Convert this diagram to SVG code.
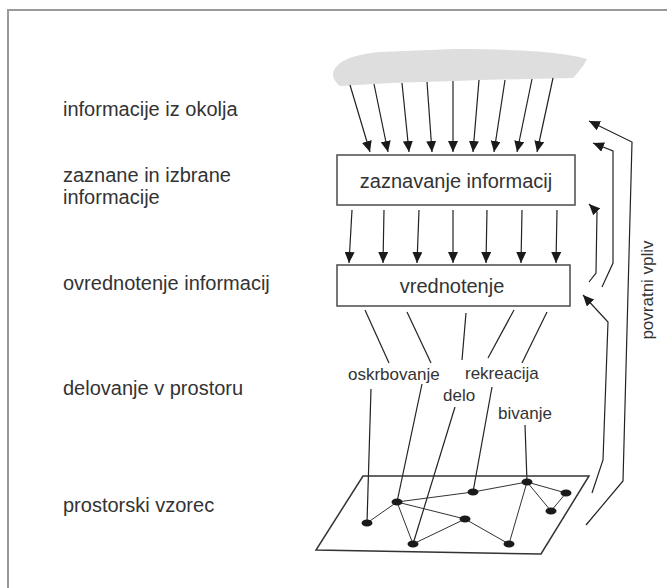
<svg xmlns="http://www.w3.org/2000/svg" width="667" height="588" viewBox="0 0 667 588">
<defs>
<marker id="ah" markerUnits="userSpaceOnUse" markerWidth="12" markerHeight="10" refX="11" refY="5" orient="auto"><path d="M0,0 L11,5 L0,10 z" fill="#1a1a1a"/></marker>
</defs>
<style>
.t{font-family:"Liberation Sans",Arial,sans-serif;font-size:20px;fill:#333}
.s{font-family:"Liberation Sans",Arial,sans-serif;font-size:17px;fill:#333}
.ln{stroke:#222;stroke-width:1.2;fill:none}
.ar{stroke:#222;stroke-width:1.2;fill:none;marker-end:url(#ah)}
.bx{fill:#fff;stroke:#555;stroke-width:1.6}
.nd{fill:#1a1a1a}
.ed{stroke:#333;stroke-width:1;fill:none}
</style>
<rect width="667" height="588" fill="#fff"/>
<path d="M8,588 L8,10 L667,10" fill="none" stroke="#999" stroke-width="2"/>
<g id="labels">
<text class="t" x="63" y="116">informacije iz okolja</text>
<text class="t" x="63" y="182">zaznane in izbrane</text>
<text class="t" x="63" y="204">informacije</text>
<text class="t" x="63" y="290">ovrednotenje informacij</text>
<text class="t" x="63" y="395">delovanje v prostoru</text>
<text class="t" x="63" y="512">prostorski vzorec</text>
</g>
<g id="cloud"><path d="M333,74 C335,62 350,55 380,52 L455,49 C505,49 562,51 587,59 L583,66 C579,71 576,75 573,78 L480,80 L455,81 L390,83 L340,86 C335,82 333,78 333,74 Z" fill="#dedede"/></g>
<g id="box-zaznavanje"><rect class="bx" x="337" y="155" width="238" height="50"/><text class="t" x="456" y="188" text-anchor="middle">zaznavanje informacij</text></g>
<g id="box-vrednotenje"><rect class="bx" x="337" y="265" width="233" height="41"/><text class="t" x="452" y="293" text-anchor="middle">vrednotenje</text></g>
<g id="activities">
<text class="s" x="348" y="380">oskrbovanje</text>
<text class="s" x="465" y="379">rekreacija</text>
<text class="s" x="443" y="401">delo</text>
<text class="s" x="498" y="419">bivanje</text>
</g>
<g id="feedback-label"><text class="s" transform="translate(653,290) rotate(-90)" text-anchor="middle">povratni vpliv</text></g>
<g id="connectors">
<line class="ar" x1="350" y1="85" x2="370" y2="152"/>
<line class="ar" x1="374" y1="84" x2="388" y2="152"/>
<line class="ar" x1="402" y1="83" x2="409" y2="152"/>
<line class="ar" x1="427" y1="82" x2="432" y2="152"/>
<line class="ar" x1="453" y1="81" x2="453" y2="152"/>
<line class="ar" x1="479" y1="80" x2="473" y2="152"/>
<line class="ar" x1="505" y1="80" x2="494" y2="152"/>
<line class="ar" x1="532" y1="79" x2="517" y2="152"/>
<line class="ar" x1="553" y1="78" x2="537" y2="152"/>
<line class="ar" x1="352" y1="210" x2="349" y2="263"/>
<line class="ar" x1="384" y1="210" x2="383" y2="263"/>
<line class="ar" x1="419" y1="210" x2="417" y2="263"/>
<line class="ar" x1="453" y1="210" x2="453" y2="263"/>
<line class="ar" x1="487" y1="210" x2="486" y2="263"/>
<line class="ar" x1="522" y1="210" x2="521" y2="263"/>
<line class="ar" x1="557" y1="210" x2="556" y2="263"/>
<line class="ln" x1="365" y1="310" x2="389" y2="363"/>
<line class="ln" x1="407" y1="312" x2="431" y2="363"/>
<line class="ln" x1="466" y1="313" x2="462" y2="360"/>
<line class="ln" x1="514" y1="310" x2="488" y2="358"/>
<line class="ln" x1="547" y1="312" x2="522" y2="363"/>
<line class="ln" x1="371" y1="389" x2="367" y2="523"/>
<line class="ln" x1="422" y1="384" x2="397" y2="502"/>
<line class="ln" x1="455" y1="407" x2="413" y2="544"/>
<line class="ln" x1="492" y1="387" x2="473" y2="492"/>
<line class="ln" x1="525" y1="425" x2="527" y2="482"/>
<polyline class="ar" points="586,525 623,481 632,142 589,121"/>
<polyline class="ar" points="602,287 613,263 613,151 593,143"/>
<polyline class="ar" points="589,282 596,273 597,212 589,204"/>
<polyline class="ar" points="592,493 603,460 608,322 583,295"/>
</g>
<g id="pattern">
<polygon points="363,476 589,476 541,554 316,550" fill="none" stroke="#333" stroke-width="1.5"/>
<polyline class="ed" points="367,523 397,502 473,492 527,482 566,493 551,511 527,482 509,544 465,519 397,502 413,544 465,519"/>
</g>
<g id="nodes">
<ellipse class="nd" cx="367" cy="523" rx="5.5" ry="3.5"/>
<ellipse class="nd" cx="397" cy="502" rx="5.5" ry="3.5"/>
<ellipse class="nd" cx="413" cy="544" rx="5.5" ry="3.5"/>
<ellipse class="nd" cx="473" cy="492" rx="5.5" ry="3.5"/>
<ellipse class="nd" cx="465" cy="519" rx="5.5" ry="3.5"/>
<ellipse class="nd" cx="527" cy="482" rx="5.5" ry="3.5"/>
<ellipse class="nd" cx="566" cy="493" rx="5.5" ry="3.5"/>
<ellipse class="nd" cx="551" cy="511" rx="5.5" ry="3.5"/>
<ellipse class="nd" cx="509" cy="544" rx="5.5" ry="3.5"/>
</g>
</svg>
